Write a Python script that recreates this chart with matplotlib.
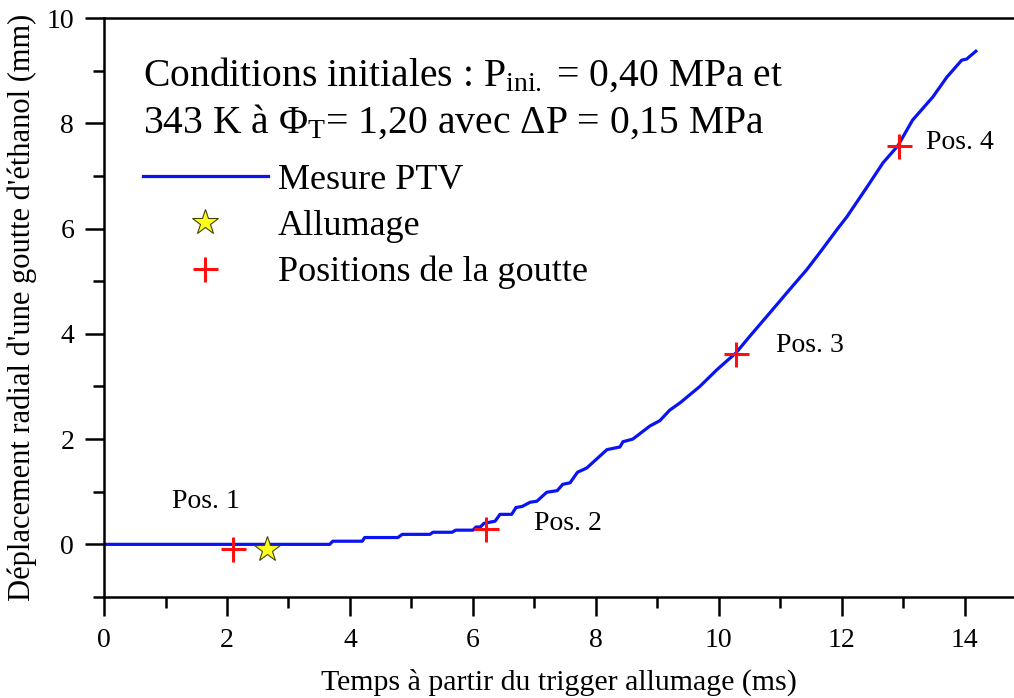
import numpy as np
import matplotlib
matplotlib.use("Agg")
from matplotlib import pyplot as plt

plt.rcParams['font.family'] = ['Liberation Serif', 'DejaVu Serif']
plt.rcParams['mathtext.fontset'] = 'custom'
plt.rcParams['mathtext.rm'] = 'Liberation Serif'
plt.rcParams['mathtext.it'] = 'Liberation Serif:italic'

t_ptv = [0.0, 3.67, 3.72, 4.20, 4.24, 4.78, 4.85, 5.30, 5.35, 5.66, 5.72, 6.00,
         6.05, 6.12, 6.18, 6.36, 6.44, 6.63, 6.70, 6.80, 6.93, 7.04, 7.20, 7.37,
         7.46, 7.58, 7.70, 7.85, 8.18, 8.39, 8.44, 8.60, 8.88, 9.04, 9.20, 9.37,
         9.69, 9.97, 10.28, 10.50, 10.83, 11.15, 11.43, 11.64, 11.92, 12.08,
         12.41, 12.67, 12.91, 13.15, 13.48, 13.71, 13.95, 14.03, 14.18]
d_ptv = [0.0, 0.0, 0.06, 0.06, 0.13, 0.13, 0.19, 0.19, 0.23, 0.23, 0.27, 0.27,
         0.33, 0.33, 0.40, 0.44, 0.57, 0.57, 0.70, 0.72, 0.80, 0.82, 0.99, 1.02,
         1.14, 1.17, 1.37, 1.45, 1.80, 1.85, 1.95, 2.00, 2.25, 2.35, 2.55, 2.69,
         3.00, 3.32, 3.64, 3.95, 4.40, 4.84, 5.22, 5.54, 5.98, 6.22,
         6.79, 7.25, 7.57, 8.06, 8.50, 8.88, 9.20, 9.22, 9.37]

t_ign = [2.65]
d_ign = [-0.08]

t_pos = [2.10, 6.21, 10.28, 12.93]
d_pos = [-0.08, 0.30, 3.62, 7.57]
pos_labels = ["Pos. 1", "Pos. 2", "Pos. 3", "Pos. 4"]
label_x = [1.65, 7.55, 11.48, 13.92]
label_y = [0.82, 0.40, 3.78, 7.63]

fig = plt.figure(figsize=(10.14, 6.98), dpi=100)
ax = fig.add_axes([0.1026, 0.1447, 0.8974, 0.8295])

ax.plot(t_ptv, d_ptv, color="#0a14f0", lw=2.3, label="Mesure PTV", zorder=2)
ax.plot(t_ign, d_ign, ls="none", marker="*", ms=19, mfc="#ffff1e",
        mec="#444400", mew=0.8, label="Allumage", zorder=3)
ax.plot(t_pos, d_pos, ls="none", marker="+", ms=18, mew=2.2, color="#ff1010",
        label="Positions de la goutte", zorder=4)

for lx, ly, s in zip(label_x, label_y, pos_labels):
    ax.text(lx, ly, s, fontsize=20, ha="center", va="center")

ax.set_xlim(0, 14.8)
ax.set_ylim(-1, 10)
ax.set_xticks(np.arange(0, 15, 2))
ax.set_xticks(np.arange(1, 15, 2), minor=True)
ax.set_yticks(np.arange(0, 11, 2))
ax.set_yticks(np.arange(-1, 10, 2), minor=True)
ax.tick_params(which="major", direction="out", length=13.5, width=1.8,
               labelsize=20)
ax.tick_params(axis="x", which="major", pad=9)
ax.tick_params(axis="y", which="major", pad=8)
ax.tick_params(which="minor", direction="out", length=8, width=1.8)
for side in ["left", "bottom", "top"]:
    ax.spines[side].set_linewidth(1.8)
ax.spines["right"].set_visible(False)

ax.set_xlabel("Temps à partir du trigger allumage (ms)", fontsize=21.5, labelpad=11)
ax.set_ylabel("Déplacement radial d'une goutte d'éthanol (mm)", fontsize=22)
ax.yaxis.set_label_coords(-0.074, 0.5)

fig.text(0.141, 0.892, r"Conditions initiales : P$_{\mathregular{ini.}}$ = 0,40 MPa et",
         fontsize=28.5, va="center", ha="left")
fig.text(0.141, 0.825, r"343 K à Φ$_{\mathregular{T}}$= 1,20 avec ΔP = 0,15 MPa",
         fontsize=28.5, va="center", ha="left")

ax.legend(loc="upper left", bbox_to_anchor=(0.141, 0.766),
          bbox_transform=fig.transFigure, frameon=False, fontsize=26,
          handlelength=3.46, handletextpad=0.28, labelspacing=0.36,
          borderaxespad=0, borderpad=0)

fig.savefig("out.png", dpi=100)
